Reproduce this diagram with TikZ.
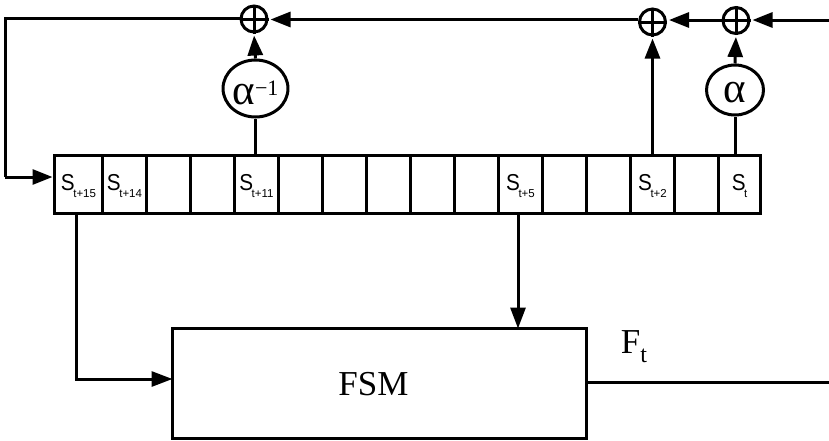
\documentclass[tikz,border=0pt]{standalone}
\usepackage{fontspec}
\setmainfont{Liberation Serif}
\newfontfamily\cellfont{Liberation Sans}
\usetikzlibrary{arrows.meta,shapes.geometric}
\tikzset{
  x=1pt,y=-1pt,
  wire/.style={line width=3pt,black},
  arr/.style={wire,-{Triangle[length=20pt,width=15pt]},shorten >=2pt},
  arrb/.style={wire,-{Triangle[length=21pt,width=15pt]}},
  xorn/.style={circle,draw,line width=3pt,minimum size=26pt,inner sep=0pt},
  mult/.style={draw,line width=3pt,inner sep=0pt,font=\fontsize{43}{43}\selectfont},
  cellbox/.style={draw,line width=3pt,inner sep=0pt,outer sep=0pt,minimum height=58.5pt,anchor=north west},
}
\newcommand{\cellname}[1]{\smash{\cellfont\fontsize{23}{23}\selectfont\raisebox{-6pt}{\scalebox{.9}[1]{S}}\raisebox{-13.5pt}{\hspace{-1.5pt}\fontsize{11.5}{11.5}\selectfont #1}}}
\newcommand{\regcell}[4]{\node[cellbox,minimum width=#3pt] (#1) at (#2,155) {#4};}
\begin{document}
\begin{tikzpicture}
\useasboundingbox (0,0) rectangle (829,440);
\regcell{c0}{54.5}{48}{\cellname{t+15}}
\regcell{c1}{102.5}{44}{\cellname{t+14}}
\regcell{c2}{146.5}{44}{}
\regcell{c3}{190.5}{44}{}
\regcell{c4}{234.5}{44}{\cellname{t+11}}
\regcell{c5}{278.5}{44}{}
\regcell{c6}{322.5}{44}{}
\regcell{c7}{366.5}{44}{}
\regcell{c8}{410.5}{44}{}
\regcell{c9}{454.5}{44}{}
\regcell{c10}{498.5}{44}{\cellname{t+5}}
\regcell{c11}{542.5}{44}{}
\regcell{c12}{586.5}{44}{}
\regcell{c13}{630.5}{44}{\cellname{t+2}}
\regcell{c14}{674.5}{44}{}
\regcell{c15}{718.5}{42}{\cellname{t}}
\node[xorn] (x1) at (254,19) {};
\node[xorn] (x2) at (652.5,22) {};
\node[xorn] (x3) at (736,20.5) {};
\draw[wire] (x1.north)--(x1.south) (x1.west)--(x1.east);
\draw[wire] (x2.north)--(x2.south) (x2.west)--(x2.east);
\draw[wire] (x3.north)--(x3.south) (x3.west)--(x3.east);
\node[mult,ellipse,minimum width=60pt,minimum height=57pt] (am) at (255.5,88.5) {\smash{\raisebox{-16pt}{α}\raisebox{-6.5pt}{\fontsize{22}{22}\selectfont −1}}};
\node[mult,ellipse,minimum width=57pt,minimum height=50pt] (ap) at (735,90) {\smash{\raisebox{-12pt}{α}}};
\node[draw,line width=3pt,outer sep=0pt,minimum width=413.5pt,minimum height=109.5pt,anchor=north west,inner sep=0pt] (fsm) at (172.5,328.5) {};
\node[font=\fontsize{35}{35}\selectfont,inner sep=0pt] at (373.5,384) {FSM};
\node[font=\fontsize{35}{35}\selectfont,inner sep=0pt] (ft) at (634,346) {\smash{\raisebox{-7pt}{F}\raisebox{-16pt}{\fontsize{24}{24}\selectfont t}}};
\coordinate (inR) at (829,20);
\coordinate (mid) at (400,19.5);
\coordinate (outR) at (829,382);
\coordinate (tl) at (5,18);
\coordinate (bl) at (5,177);
\coordinate (fb) at (76,379);
\draw[arr] (inR)--(inR-|x3.east);
\draw[arr] (inR-|x3.west)--(inR-|x2.east);
\draw[arr] (mid-|x2.west)--(mid-|x1.east);
\draw[wire] (tl-|x1.west)--(tl)--(bl);
\draw[arr] (bl)--(bl-|c0.west);
\draw[arr] (am.north)--(x1.south);
\draw[wire] (c4.north-|am.south)--(am.south);
\draw[arr] (c13.north-|x2.south)--(x2.south);
\draw[arr] (ap.north)--(x3.south);
\draw[wire] (c15.north-|ap.south)--(ap.south);
\draw[arrb] (c0.south-|fb)--(fb)--(fb-|fsm.west);
\draw[arrb] (c10.south-|518,0)--(fsm.north-|518,0);
\draw[wire] (outR-|fsm.east)--(outR);
\end{tikzpicture}
\end{document}
